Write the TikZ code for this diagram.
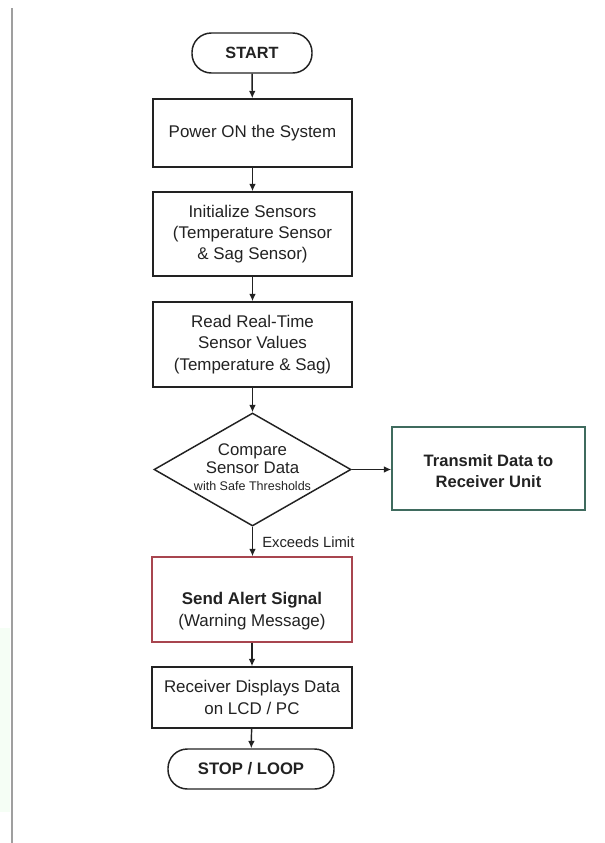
\documentclass[tikz,border=0pt]{standalone}
\usepackage{fontspec}
\setmainfont{Liberation Sans}
\usetikzlibrary{shapes.geometric,arrows.meta}
\definecolor{ink}{HTML}{222222}
\definecolor{greenb}{HTML}{3F6B5E}
\definecolor{redb}{HTML}{A8454F}
\begin{document}
\begin{tikzpicture}[x=0.75pt,y=-0.75pt,
  every node/.style={text=ink},
  procbox/.style={draw=ink,line width=1.1pt,rectangle,inner sep=0pt,align=center,font=\fontsize{12.7}{16}\selectfont},
  termbox/.style={draw=ink,line width=1.1pt,rectangle,rounded corners=14.5pt,inner sep=0pt,align=center,font=\fontsize{12.2}{15}\selectfont\bfseries},
  txt/.style={align=center,inner sep=0pt,font=\fontsize{12.7}{16}\selectfont},
  arr/.style={draw=ink,line width=1.1pt,-{Latex[length=5.5pt,width=5pt]}}]
\useasboundingbox (0,0) rectangle (605,843);
\fill[white] (0,0) rectangle (605,843);
% left margin rule and faint smudge
\fill[black!8!green!4!white] (0,628) rectangle (10,812);
\draw[gray!75,line width=1.5pt] (12,8) -- (12,843);

\node[termbox,minimum width=90pt,minimum height=30pt] (start) at (252,53) {START};
\node[procbox,minimum width=149.5pt,minimum height=51pt] (power) at (252.5,133) {Power ON the System};
\node[procbox,minimum width=149.5pt,minimum height=63pt] (init) at (252.5,234) {Initialize Sensors\\(Temperature Sensor\\\& Sag Sensor)};
\node[procbox,minimum width=149.5pt,minimum height=63.75pt] (read) at (252.5,344.5) {Read Real-Time\\Sensor Values\\(Temperature \& Sag)};
\node[draw=ink,line width=1.1pt,diamond,inner sep=0pt,minimum width=147.75pt,minimum height=84.75pt] (cmp) at (252.5,469.5) {};
\node[txt,font=\fontsize{12.6}{13.5}\selectfont] (cmptxt) at (252.5,467) {Compare\\Sensor Data\\[-1pt]{\fontsize{9.4}{11}\selectfont with Safe Thresholds}};
\node[procbox,draw=greenb,minimum width=144.75pt,minimum height=62.25pt] (tx) at (488.5,468.5) {};
\node[txt,font=\fontsize{12.4}{16}\selectfont\bfseries] (txtxt) at (488.5,471) {Transmit Data to\\Receiver Unit};
\node[procbox,draw=redb,minimum width=150pt,minimum height=63.75pt] (alert) at (252,599.5) {};
\node[txt] (alerttxt) at (252,611) {{\bfseries Send Alert Signal}\\(Warning Message)};
\node[procbox,minimum width=150pt,minimum height=45.75pt] (recv) at (252,697.5) {Receiver Displays Data\\on LCD / PC};
\node[termbox,font=\fontsize{12.5}{15}\selectfont\bfseries,minimum width=124.5pt,minimum height=30pt] (stop) at (251,769) {STOP / LOOP};

\draw[arr] (start) -- (power);
\draw[arr] (power) -- (init);
\draw[arr] (init) -- (read);
\draw[arr] (read) -- (cmp);
\draw[arr] (cmp.east) -- (cmp.east -| tx.west);
\draw[arr] (cmp.south) -- (alert.north -| cmp.south);
\node[txt,anchor=west,font=\fontsize{11.1}{13}\selectfont] (exc) at (262,542) {Exceeds Limit};
\draw[arr] (alert) -- (recv);
\draw[arr] (recv) -- (stop);
\end{tikzpicture}
\end{document}
